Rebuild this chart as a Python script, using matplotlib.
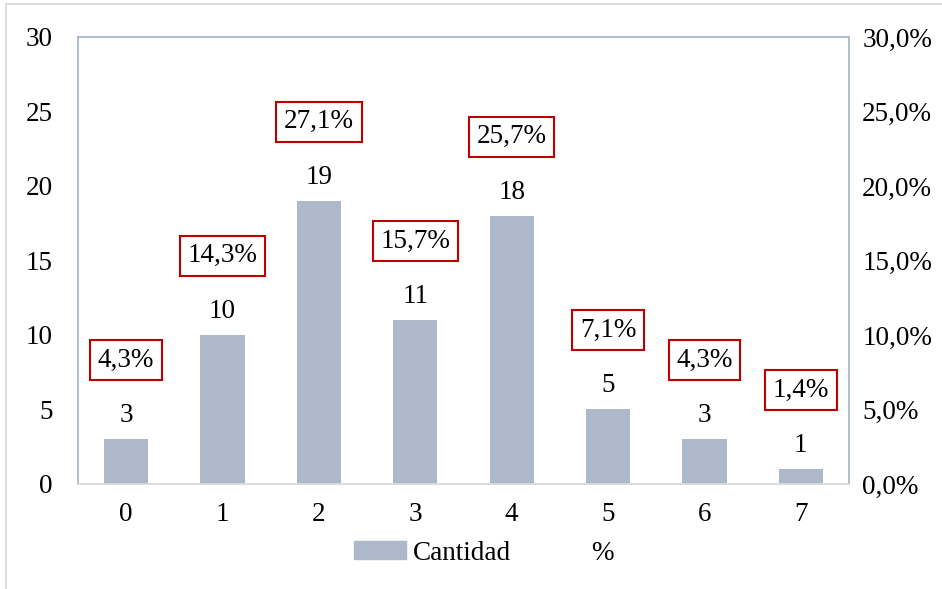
import matplotlib.pyplot as plt
from matplotlib.patches import Patch
from matplotlib.lines import Line2D
from matplotlib.ticker import FuncFormatter

# datos
categorias = ['0', '1', '2', '3', '4', '5', '6', '7']
cantidad = [3, 10, 19, 11, 18, 5, 3, 1]
porcentaje = [4.3, 14.3, 27.1, 15.7, 25.7, 7.1, 4.3, 1.4]

plt.rcParams['font.family'] = ['Liberation Serif', 'DejaVu Serif']
fs = 19.5

fig = plt.figure(figsize=(9.42, 5.89), dpi=100)
ax = fig.add_axes([0.0828, 0.1783, 0.8185, 0.7589])

x = list(range(len(categorias)))
ax.bar(x, cantidad, width=0.46, color='#ADB9CA', zorder=2)

ax.set_xlim(-0.5, len(categorias) - 0.5)
ax.set_ylim(0, 30)
ax.set_yticks(range(0, 31, 5))
ax.set_xticks(x)
ax.set_xticklabels(categorias)
ax.tick_params(axis='both', length=0, labelsize=fs)
ax.tick_params(axis='y', pad=18)
ax.tick_params(axis='x', pad=13)

for lado in ['left', 'top', 'right']:
    ax.spines[lado].set_color('#A9B6CC')
    ax.spines[lado].set_linewidth(1.3)
ax.spines['bottom'].set_color('#D9D9D9')
ax.spines['bottom'].set_linewidth(1.3)

# eje secundario para porcentaje
ax2 = ax.twinx()
ax2.set_ylim(0, 0.30)
ax2.set_yticks([i / 100 for i in range(0, 31, 5)])
ax2.yaxis.set_major_formatter(FuncFormatter(lambda v, p: f'{v*100:.1f}%'.replace('.', ',')))
ax2.tick_params(axis='y', length=0, labelsize=fs, pad=9.5)
for lado in ax2.spines:
    ax2.spines[lado].set_visible(False)

# etiquetas
for xi, c, p in zip(x, cantidad, porcentaje):
    ax.annotate(str(c), (xi, c), xytext=(0, 17), textcoords='offset points',
                ha='center', va='center', fontsize=fs)
    ax.annotate(f'{p:.1f}%'.replace('.', ','), (xi, c), xytext=(0, 57),
                textcoords='offset points', ha='center', va='center', fontsize=fs,
                bbox=dict(boxstyle='square,pad=0.28', fc='white', ec='#C00000', lw=1.5))

handles = [Patch(color='#ADB9CA'), Line2D([], [], linestyle='none')]
fig.legend(handles, ['Cantidad', '%'], loc='center', bbox_to_anchor=(0.514, 0.061),
           ncol=2, frameon=False, fontsize=fs, handlelength=1.92, handleheight=0.6,
           handletextpad=0.25, columnspacing=0.8)

# borde del grafico
fig.add_artist(Line2D([0.006, 1], [0.993, 0.993], color='#D9D9D9', lw=1.2))
fig.add_artist(Line2D([0.006, 0.006], [0, 0.993], color='#D9D9D9', lw=1.2))

fig.savefig('out.png', dpi=100)
